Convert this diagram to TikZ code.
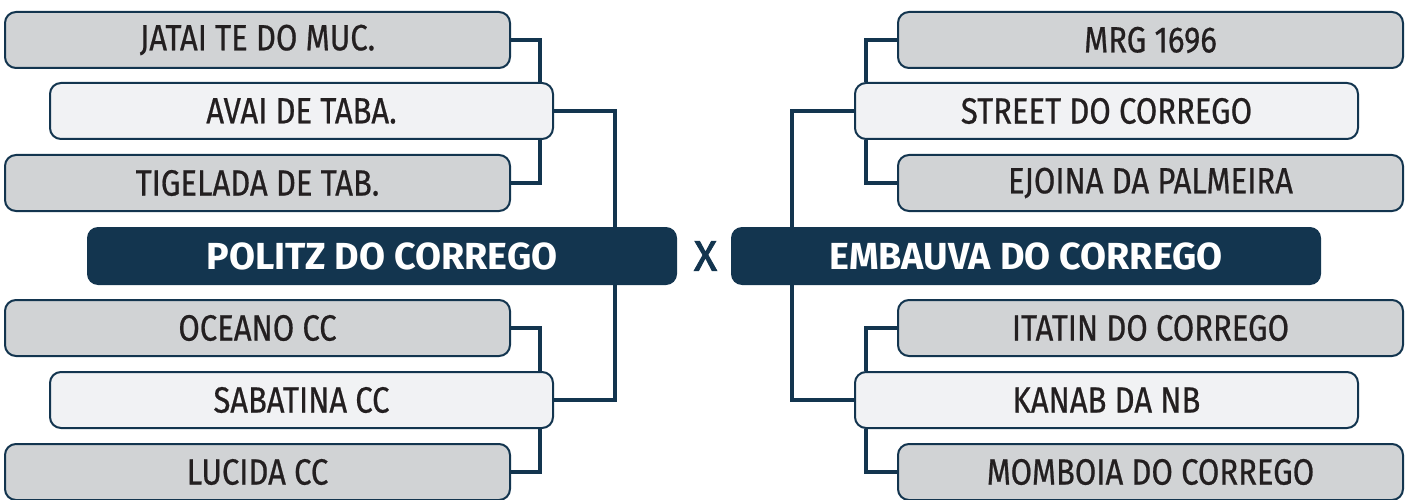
\documentclass[tikz,border=0pt]{standalone}
\usepackage{fontspec}
\setmainfont{Fira Sans}[FakeStretch=0.85, FakeBold=0.6]
\newfontfamily\titlefont{Fira Sans}[FakeStretch=1.0]
\newfontfamily\xfont{Fira Sans}[FakeBold=2]
\definecolor{navy}{HTML}{13354F}
\definecolor{boxgray}{HTML}{D1D3D5}
\definecolor{boxlight}{HTML}{F1F2F4}
\definecolor{ink}{HTML}{231F20}
\begin{document}
\begin{tikzpicture}[x=1pt,y=-1pt,
  team/.style={draw=navy, line width=2pt, rounded corners=11pt, inner sep=0pt,
    minimum width=505pt, minimum height=56pt, text=ink,
    font=\fontsize{36.5}{38}\selectfont},
  outer/.style={team, fill=boxgray},
  inner/.style={team, fill=boxlight, minimum width=503pt},
  final/.style={fill=navy, rounded corners=11pt, inner sep=0pt,
    minimum width=590pt, minimum height=58pt, text=white,
    font=\titlefont\fontsize{37.7}{39}\selectfont\bfseries},
  conn/.style={draw=navy, line width=4pt}]
\useasboundingbox (0,0) rectangle (1411,500);

% trunk coordinates
\coordinate (lA) at (540,0);
\coordinate (lB) at (615,0);
\coordinate (rA) at (866,0);
\coordinate (rB) at (792,0);

\node[outer] (jatai) at (257.5,40) {JATAI TE DO MUC.};
\node[inner] (avai) at (301.5,111) {AVAI DE TABA.};
\node[outer] (tigelada) at (257.5,183) {TIGELADA DE TAB.};
\node[outer] (oceano) at (257.5,328) {OCEANO CC};
\node[inner] (sabatina) at (301.5,400) {SABATINA CC};
\node[outer] (lucida) at (257.5,472) {LUCIDA CC};

\node[outer] (mrg) at (1150.5,40) {MRG 1696};
\node[inner] (street) at (1106.5,111) {STREET DO CORREGO};
\node[outer] (ejoina) at (1150.5,183) {EJOINA DA PALMEIRA};
\node[outer] (itatin) at (1150.5,328) {ITATIN DO CORREGO};
\node[inner] (kanab) at (1106.5,400) {KANAB DA NB};
\node[outer] (momboia) at (1150.5,472) {MOMBOIA DO CORREGO};

\node[final] (politz) at (382,256) {POLITZ DO CORREGO};
\node[final] (embauva) at (1026,256) {EMBAUVA DO CORREGO};
\node[text=navy, inner sep=0pt, font=\xfont\fontsize{43}{45}\selectfont] (vs) at (705.5,256) {X};

\draw[conn] (jatai.east) -| (lA |- avai.north);
\draw[conn] (tigelada.east) -| (lA |- avai.south);
\draw[conn] (avai.east) -| (lB |- politz.north);
\draw[conn] (oceano.east) -| (lA |- sabatina.north);
\draw[conn] (lucida.east) -| (lA |- sabatina.south);
\draw[conn] (sabatina.east) -| (lB |- politz.south);

\draw[conn] (mrg.west) -| (rA |- street.north);
\draw[conn] (ejoina.west) -| (rA |- street.south);
\draw[conn] (street.west) -| (rB |- embauva.north);
\draw[conn] (itatin.west) -| (rA |- kanab.north);
\draw[conn] (momboia.west) -| (rA |- kanab.south);
\draw[conn] (kanab.west) -| (rB |- embauva.south);
\end{tikzpicture}
\end{document}
